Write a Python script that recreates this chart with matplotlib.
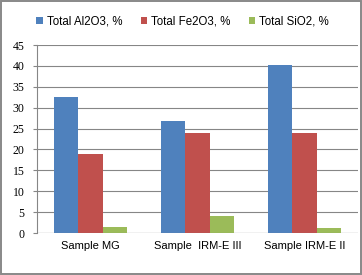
import matplotlib
matplotlib.use("Agg")
import matplotlib.pyplot as plt
import numpy as np
from matplotlib.patches import Rectangle

categories = ["Sample MG", "Sample  IRM-E III", "Sample IRM-E II"]
series_names = ["Total Al2O3, %", "Total Fe2O3, %", "Total SiO2, %"]
al2o3 = [32.6, 26.7, 40.1]
fe2o3 = [18.9, 23.9, 23.9]
sio2 = [1.5, 4.1, 1.3]
yticks = [0, 5, 10, 15, 20, 25, 30, 35, 40, 45]

colors = ["#4F81BD", "#C0504D", "#9BBB59"]

fig = plt.figure(figsize=(3.62, 2.75), dpi=100)
ax = fig.add_axes([37/362, 1-233/275, (358-37)/362, (233-45)/275])

x = np.arange(len(categories))
w = 0.225
for i, (vals, name) in enumerate(zip([al2o3, fe2o3, sio2], series_names)):
    ax.bar(x + (i-1)*w, vals, width=w, color=colors[i], label=name, zorder=3)

ax.set_xlim(-0.5, 2.5)
ax.set_ylim(0, 45)
ax.set_yticks(yticks)
ax.yaxis.grid(True, color="#868686", linewidth=0.8, zorder=0)
for s in ["top", "right", "bottom"]:
    ax.spines[s].set_visible(False)
ax.spines["left"].set_color("#868686")
ax.spines["left"].set_linewidth(0.8)
ax.axhline(0, color="#868686", linewidth=0.8, zorder=4)
ax.tick_params(axis="y", length=3, color="#868686", width=0.8, pad=6, labelsize=8.5)
for lbl in ax.get_yticklabels():
    lbl.set_fontfamily("Liberation Serif")
ax.set_xticks(x)
ax.set_xticklabels(categories, fontsize=8, fontfamily="Liberation Sans")
ax.tick_params(axis="x", length=0, pad=6)

fig.legend(loc="center", bbox_to_anchor=(0.505, 1-22/275), ncol=3, frameon=False,
           handlelength=0.55, handleheight=0.55, handletextpad=0.35,
           columnspacing=1.6, prop={"family": "Liberation Sans", "size": 8.3})

fig.patches.append(Rectangle((0.003, 0.004), 0.993, 0.991, transform=fig.transFigure,
                             fill=False, edgecolor="#888888", linewidth=1.4))

fig.savefig("out.png", dpi=100)
